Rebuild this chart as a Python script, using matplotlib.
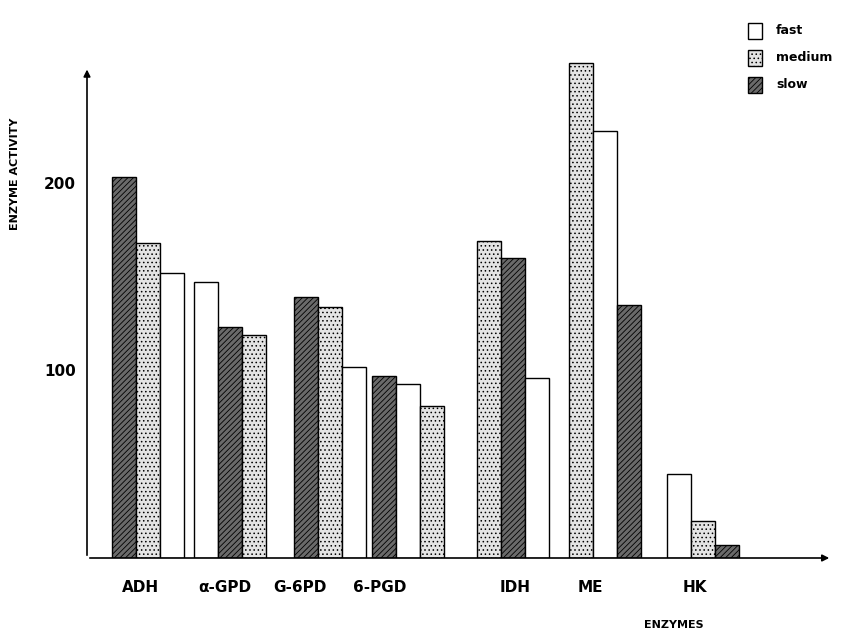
import matplotlib
matplotlib.use("Agg")
import matplotlib.pyplot as plt
import numpy as np

enzymes = ["ADH", "\u03b1-GPD", "G-6PD", "6-PGD", "IDH", "ME", "HK"]
fast = [152, 147, 102, 93, 96, 228, 45]
medium = [168, 119, 134, 81, 169, 264, 20]
slow = [203, 123, 139, 97, 160, 135, 7]

# layout: group centres (roughly as in the original figure)
centers = [61, 143, 243, 321, 426, 518, 616]
label_x = [53, 138, 213, 293, 428, 503, 608]
width = 24

styles = {
    "fast": dict(facecolor="white", hatch=None),
    "medium": dict(facecolor="#e4e4e4", hatch="...."),
    "slow": dict(facecolor="#6a6a6a", hatch="//////"),
}

plt.rcParams["hatch.linewidth"] = 0.6
fig = plt.figure(figsize=(8.48, 6.43), dpi=100)
ax = fig.add_axes([87 / 848, 85 / 643, 753 / 848, 525 / 643])
ax.set_xlim(0, 753)
ax.set_ylim(0, 280)

for i, c in enumerate(centers):
    vals = [("fast", fast[i]), ("medium", medium[i]), ("slow", slow[i])]
    vals.sort(key=lambda t: -t[1])
    for k, (name, v) in enumerate(vals):
        ax.bar(c + (k - 1) * width, v, width, color=styles[name]["facecolor"],
               hatch=styles[name]["hatch"], edgecolor="black", linewidth=1.0)

for s in ax.spines.values():
    s.set_visible(False)
ax.annotate("", xy=(0, 262), xytext=(0, 0),
            arrowprops=dict(arrowstyle="-|>", color="black", lw=1.2))
ax.annotate("", xy=(745, 0), xytext=(0, 0),
            arrowprops=dict(arrowstyle="-|>", color="black", lw=1.2))
ax.set_xticks([])
ax.set_yticks([100, 200])
ax.set_yticklabels(["100", "200"], fontsize=11, fontweight="bold")
ax.tick_params(axis="y", length=0, pad=8)

for x, name in zip(label_x, enzymes):
    ax.text(x, -12, name, ha="center", va="top", fontsize=11, fontweight="bold")

fig.text(0.012, 0.73, "ENZYME ACTIVITY", rotation=90, ha="left", va="center",
         fontsize=8, fontweight="bold")
fig.text(0.795, 0.02, "ENZYMES", ha="center", va="bottom",
         fontsize=8, fontweight="bold")

# legend
for j, name in enumerate(["fast", "medium", "slow"]):
    y = 0.94 - j * 0.042
    fig.patches.append(plt.Rectangle((0.882, y), 0.017, 0.024, transform=fig.transFigure,
                                     facecolor=styles[name]["facecolor"],
                                     hatch=styles[name]["hatch"], edgecolor="black", lw=1.0))
    fig.text(0.915, y + 0.012, name, ha="left", va="center", fontsize=9, fontweight="bold")

fig.savefig("out.png", dpi=100)
